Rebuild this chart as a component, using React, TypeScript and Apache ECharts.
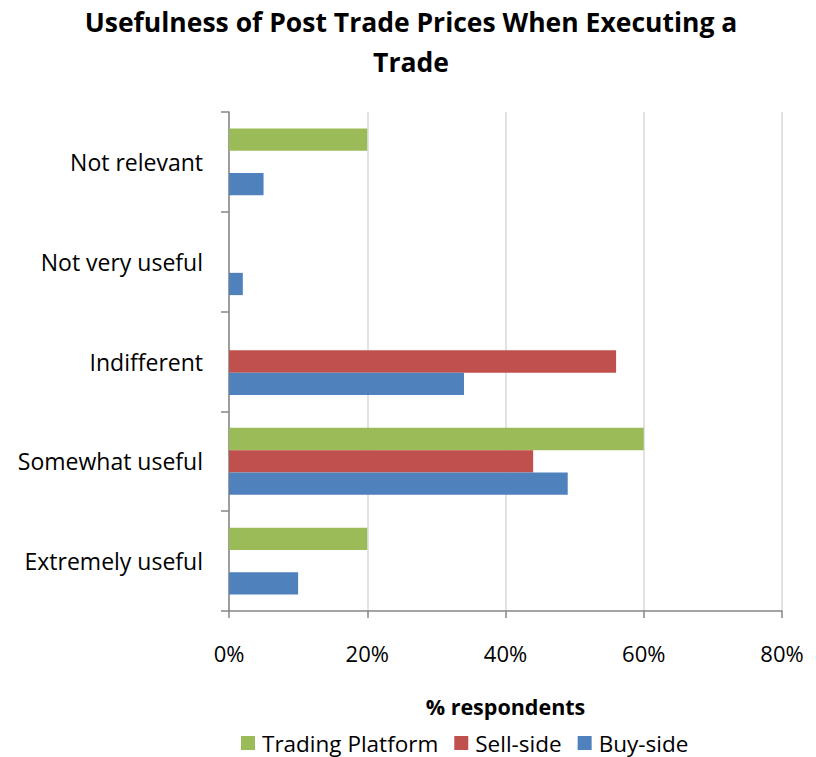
import React, { useEffect, useRef } from "react";
import * as echarts from "echarts";

const categories = ["Extremely useful", "Somewhat useful", "Indifferent", "Not very useful", "Not relevant"];
const tradingPlatform = [20, 60, 0, 0, 20];
const sellSide = [0, 44, 56, 0, 0];
const buySide = [10, 49, 34, 2, 5];
const xTicks = [0, 20, 40, 60, 80];

const FONT = "Open Sans";

export default function App() {
  const ref = useRef<HTMLDivElement>(null);
  useEffect(() => {
    if (!ref.current) return;
    const chart = echarts.init(ref.current, null, { renderer: "svg" });
    chart.setOption({
      animation: false,
      textStyle: { fontFamily: FONT },
      title: {
        text: "Usefulness of Post Trade Prices When Executing a\nTrade",
        left: 411,
        textAlign: "center",
        top: 2,
        padding: 0,
        textStyle: { fontFamily: FONT, fontSize: 26.5, fontWeight: "bold", color: "#000", lineHeight: 40 },
      },
      legend: {
        data: ["Trading Platform", "Sell-side", "Buy-side"],
        left: 241,
        top: 731,
        padding: 0,
        itemWidth: 14,
        itemHeight: 14,
        itemGap: 16,
        icon: "rect",
        textStyle: { fontFamily: FONT, fontSize: 22.5, color: "#000", lineHeight: 24, padding: [0, 0, 0, 2] },
      },
      grid: { left: 229, right: 34, top: 112, bottom: 146, containLabel: false },
      xAxis: {
        type: "value",
        min: xTicks[0],
        max: xTicks[xTicks.length - 1],
        interval: 20,
        name: "% respondents",
        nameLocation: "middle",
        nameGap: 84,
        nameTextStyle: { fontFamily: FONT, fontSize: 21.5, fontWeight: "bold", color: "#000" },
        axisLine: { show: true, lineStyle: { color: "#868686", width: 1.5 } },
        axisTick: { show: true, length: 7, lineStyle: { color: "#868686", width: 1.5 } },
        axisLabel: { formatter: "{value}%", fontSize: 22, color: "#000", margin: 31, fontFamily: FONT },
        splitLine: { show: true, lineStyle: { color: "#d9d9d9", width: 1.5 } },
      },
      yAxis: {
        type: "category",
        data: categories,
        axisLine: { show: true, lineStyle: { color: "#868686", width: 1.5 } },
        axisTick: { show: true, length: 8, lineStyle: { color: "#868686", width: 1.5 } },
        axisLabel: { fontSize: 23, color: "#000", margin: 26, fontFamily: FONT },
      },
      series: [
        { name: "Trading Platform", type: "bar", data: tradingPlatform, itemStyle: { color: "#9bbb59" }, barGap: "0%", barCategoryGap: "33%" },
        { name: "Sell-side", type: "bar", data: sellSide, itemStyle: { color: "#c0504d" }, barGap: "0%", barCategoryGap: "33%" },
        { name: "Buy-side", type: "bar", data: buySide, itemStyle: { color: "#4f81bd" }, barGap: "0%", barCategoryGap: "33%" },
      ],
    });
    return () => chart.dispose();
  }, []);
  return <div ref={ref} style={{ width: 816, height: 757, position: "absolute", left: 0, top: 0 }} />;
}
